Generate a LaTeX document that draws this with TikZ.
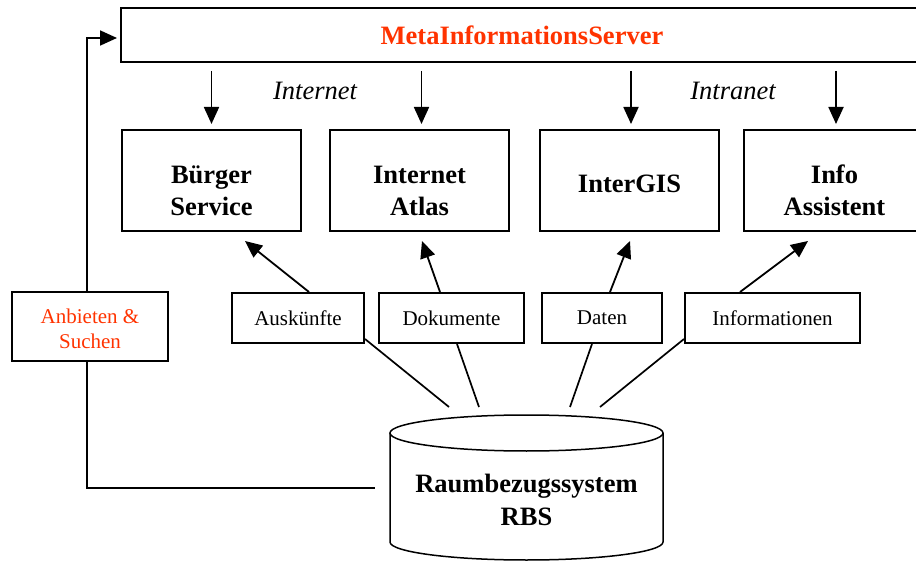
\documentclass[tikz,border=0pt]{standalone}
\usepackage{fontspec}
\setmainfont{Liberation Serif}
\usetikzlibrary{arrows.meta,calc}
\definecolor{misred}{RGB}{255,51,0}
\begin{document}
\begin{tikzpicture}[x=1pt,y=-1pt,
  boxline/.style={draw, line width=2pt, inner sep=0pt, align=center},
  bigbox/.style={boxline, minimum width=179pt, minimum height=101pt},
  bigtext/.style={font=\fontsize{26.5}{32}\selectfont\bfseries, align=center, inner sep=0pt},
  smallbox/.style={boxline, font=\fontsize{21}{25}\selectfont, minimum height=50pt},
  netlabel/.style={font=\fontsize{26.5}{32}\selectfont\itshape, inner sep=0pt},
  arr/.style={line width=1.8pt, -{Triangle[length=17pt,width=15pt]}},
  conn/.style={line width=1.7pt},
  cylline/.style={line width=1.5pt}]
\useasboundingbox (0,0) rectangle (916,561);

% top server box
\node[boxline, minimum width=802pt, minimum height=54pt,
      font=\fontsize{26.5}{32}\selectfont\bfseries, text=misred] (mis) at (522,35) {MetaInformationsServer};

% application boxes
\node[bigbox] (bs) at (211.5,180.5) {};
\node[bigbox] (ia) at (419.5,180.5) {};
\node[bigbox] (ig) at (629.5,180.5) {};
\node[bigbox, minimum width=181pt] (ias) at (834.5,180.5) {};
\node[bigtext] (bst) at ([yshift=-10pt]bs.center) {Bürger\\Service};
\node[bigtext] (iat) at ([yshift=-10pt]ia.center) {Internet\\Atlas};
\node[bigtext] (igt) at ([yshift=-3pt]ig.center) {InterGIS};
\node[bigtext] (iast) at ([yshift=-10pt]ias.center) {Info\\Assistent};

% net labels
\node[netlabel] (inet) at (315,91) {Internet};
\node[netlabel] (intra) at (733,91) {Intranet};

% content boxes
\node[smallbox, minimum width=132pt] (ausk) at (298,318) {Auskünfte};
\node[smallbox, minimum width=145pt] (doku) at (451.5,318) {Dokumente};
\node[smallbox, minimum width=120pt] (daten) at (602,318) {Daten};
\node[smallbox, minimum width=175pt] (info) at (772.5,318) {Informationen};
\node[boxline, minimum width=156pt, minimum height=69pt] (anb) at (90,326.5) {};
\node[font=\fontsize{21}{25}\selectfont, text=misred, align=center, inner sep=0pt] (anbt) at ([yshift=-2pt]anb.center) {Anbieten \&\\Suchen};

% cylinder
\draw[cylline] (526.5,433) ellipse [x radius=136.5pt, y radius=18pt];
\draw[cylline] (390,433) -- (390,542) arc[start angle=180, end angle=360, x radius=136.5pt, y radius=18pt] -- (663,433);
\node[font=\fontsize{26.5}{33}\selectfont\bfseries, align=center, inner sep=0pt] (rbs) at (526.5,500) {Raumbezugssystem\\RBS};
\coordinate (cyl) at (526.5,415);
\coordinate (feed) at (375,488);

% server to applications
\draw[arr, shorten <=8pt, shorten >=5pt] (mis.south -| bs.north) -- (bs.north);
\draw[arr, shorten <=8pt, shorten >=5pt] ([xshift=2pt]mis.south -| ia.north) -- ([xshift=2pt]ia.north);
\draw[arr, shorten <=8pt, shorten >=5pt] ([xshift=1.5pt]mis.south -| ig.north) -- ([xshift=1.5pt]ig.north);
\draw[arr, shorten <=8pt, shorten >=5pt] ([xshift=1.5pt]mis.south -| ias.north) -- ([xshift=1.5pt]ias.north);

% content to applications
\draw[arr] ($(ausk.north)+(11,0)$) -- ($(bs.south)+(33.5,9)$);
\draw[arr] ($(doku.north)+(-11.5,0)$) -- ($(ia.south)+(2.5,9)$);
\draw[arr] ($(daten.north)+(8,0)$) -- ($(ig.south)+(0.5,9)$);
\draw[arr] ($(info.north)+(-32.5,0)$) -- ($(ias.south)+(-26.5,9)$);

% RBS to content
\draw[conn] ($(ausk.south east)+(0,-5)$) -- ($(cyl)+(-77.5,-8)$);
\draw[conn] ($(doku.south)+(5.5,0)$) -- ($(cyl)+(-47.5,-8)$);
\draw[conn] ($(daten.south)+(-10,0)$) -- ($(cyl)+(43.5,-8)$);
\draw[conn] ($(info.south west)+(0,-5)$) -- ($(cyl)+(73.5,-8)$);

% loop
\draw[arr, shorten >=3pt] ([xshift=-3pt]anb.north) |- ([yshift=-3pt]mis.west);
\draw[conn] ([xshift=-3pt]anb.south) |- (feed);
\end{tikzpicture}
\end{document}
